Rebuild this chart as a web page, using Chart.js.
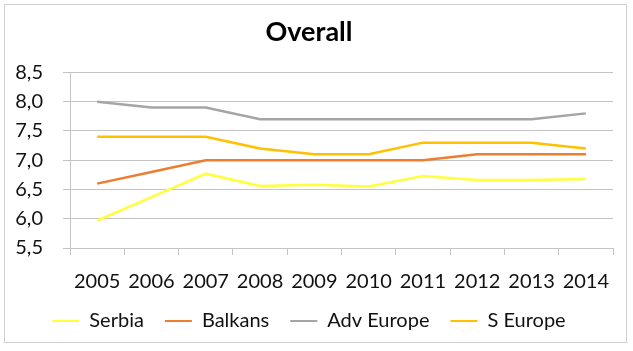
<!DOCTYPE html>
<html>
<head>
<meta charset="utf-8">
<script src="https://cdn.jsdelivr.net/npm/chart.js@4/dist/chart.umd.min.js"></script>
<style>
  html, body { margin: 0; padding: 0; background: #fff; }
  #wrap { width: 633px; height: 351px; position: relative; }
</style>
</head>
<body>
<div id="wrap"><canvas id="chart" width="633" height="351"></canvas></div>
<script>
// data
const years = ['2005', '2006', '2007', '2008', '2009', '2010', '2011', '2012', '2013', '2014'];
const serbia = [5.97, 6.37, 6.77, 6.56, 6.58, 6.55, 6.73, 6.66, 6.66, 6.68];
const balkans = [6.6, 6.8, 7.0, 7.0, 7.0, 7.0, 7.0, 7.1, 7.1, 7.1];
const advEurope = [8.0, 7.9, 7.9, 7.7, 7.7, 7.7, 7.7, 7.7, 7.7, 7.8];
const sEurope = [7.4, 7.4, 7.4, 7.2, 7.1, 7.1, 7.3, 7.3, 7.3, 7.2];
const yMin = 5.5;
const yMax = 8.5;
const yStep = 0.5;

const FONT = 'Lato, "Open Sans", sans-serif';
const gridColor = '#c4c4c4';

// light frame round the whole chart
const framePlugin = {
    id: 'frame',
    beforeDraw(chart) {
        const ctx = chart.ctx;
        ctx.save();
        ctx.fillStyle = '#fff';
        ctx.fillRect(0, 0, chart.width, chart.height);
        ctx.strokeStyle = '#d0d0d0';
        ctx.lineWidth = 1;
        ctx.strokeRect(4.5, 4.5, 622, 338);
        ctx.restore();
    }
};

function makeSet(label, data, color) {
    return {
        label: label,
        data: data,
        borderColor: color,
        backgroundColor: color,
        borderWidth: 2.5,
        pointRadius: 0,
        tension: 0,
        fill: false
    };
}

new Chart(document.getElementById('chart'), {
    type: 'line',
    data: {
        labels: years,
        datasets: [
            makeSet('Serbia', serbia, '#ffff3c'),
            makeSet('Balkans', balkans, '#ed7d31'),
            makeSet('Adv Europe', advEurope, '#a5a5a5'),
            makeSet('S Europe', sEurope, '#ffc000')
        ]
    },
    options: {
        responsive: false,
        animation: false,
        layout: { padding: { top: 16, left: 5, right: 20, bottom: 10 } },
        plugins: {
            title: {
                display: true,
                text: 'Overall',
                color: '#000',
                font: { family: FONT, size: 27, weight: 'bold' },
                padding: { top: 0, bottom: 24 }
            },
            legend: {
                position: 'bottom',
                labels: {
                    color: '#111',
                    font: { family: FONT, size: 20 },
                    boxWidth: 27,
                    boxHeight: 2,
                    padding: 21,
                    generateLabels(chart) {
                        return chart.data.datasets.map((ds, i) => ({
                            text: ds.label,
                            fillStyle: ds.borderColor,
                            strokeStyle: ds.borderColor,
                            lineWidth: 0,
                            datasetIndex: i,
                            fontColor: '#111'
                        }));
                    }
                }
            },
            tooltip: { enabled: false }
        },
        scales: {
            x: {
                offset: true,
                grid: {
                    offset: true,
                    drawOnChartArea: false,
                    drawTicks: true,
                    tickLength: 7,
                    color: gridColor
                },
                border: { display: true, color: gridColor },
                ticks: {
                    color: '#111',
                    font: { family: FONT, size: 20 },
                    padding: 15,
                    maxRotation: 0,
                    autoSkip: false
                },
                afterFit(scale) { scale.height = 42; }
            },
            y: {
                min: yMin,
                max: yMax,
                grid: {
                    color: gridColor,
                    drawTicks: true,
                    tickLength: 7
                },
                border: { display: true, color: gridColor },
                ticks: {
                    stepSize: yStep,
                    color: '#111',
                    font: { family: FONT, size: 20 },
                    padding: 20,
                    callback: v => v.toFixed(1).replace('.', ',')
                },
                afterFit(scale) { scale.width = 65; }
            }
        }
    },
    plugins: [framePlugin]
});
</script>
</body>
</html>
